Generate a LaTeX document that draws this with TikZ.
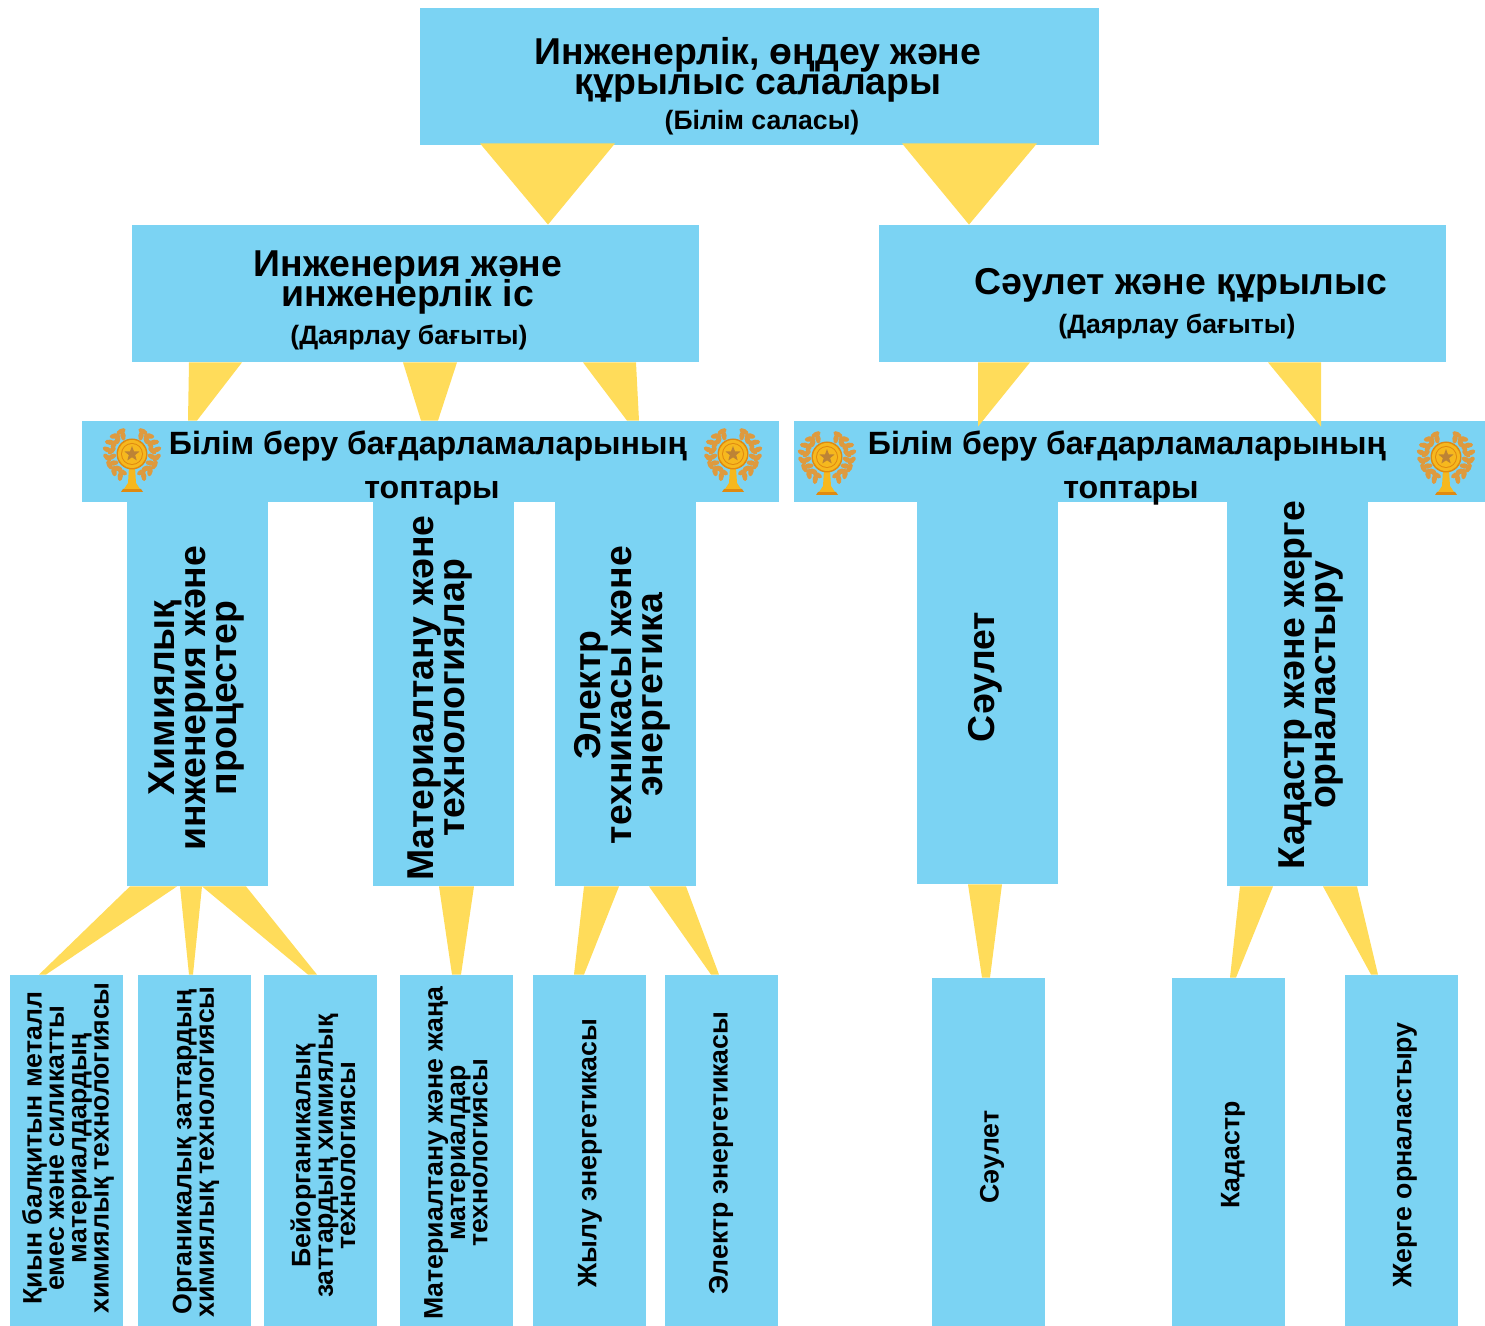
\documentclass[tikz,border=0pt]{standalone}
\usepackage{fontspec}
\setmainfont{Liberation Sans}
\usetikzlibrary{shapes.geometric}
\definecolor{skyblock}{HTML}{7BD3F3}
\definecolor{wedgegold}{HTML}{FFDC5A}
\definecolor{leafbrown}{HTML}{DE9A3E}
\definecolor{cupgold}{HTML}{F6B81E}
\definecolor{cupedge}{HTML}{E08A10}
\def\tightlines{\lineskiplimit -100pt\relax}
\tikzset{
	bx/.style n args={2}{fill=skyblock,inner sep=0pt,minimum width=#1*0.5pt,minimum height=#2*0.5pt},
	txt/.style n args={2}{font=\fontsize{#1}{#2}\selectfont\bfseries\tightlines,align=center,inner sep=0pt},
	headtxt/.style={txt={18.7}{15}},
	subtxt/.style={txt={13.3}{15}},
	bandtxt/.style={txt={16.1}{22}},
	coltxt/.style={txt={18.7}{15.5},rotate=90},
	leaftxt/.style={txt={13.35}{11.2},rotate=90},
	wedgefill/.style={fill=wedgegold}
}
\def\taper[#1](#2)(#3:#4)(#5)(#6:#7){\fill[wedgefill] ([yshift=#1pt]#3,0 |- #2.south) -- ([yshift=#1pt]#4,0 |- #2.south) -- (#7,0 |- #5.north) -- (#6,0 |- #5.north) -- cycle;}
\def\medal(#1,#2){
	\begin{scope}[shift={(#1,#2)}]
		\foreach \s in {-1,1} {
			\foreach \a in {26,44,...,152} {
				\fill[leafbrown,rotate around={{\s*(\a-35)}:({\s*20.5*sin(\a)},{-20.5*cos(\a)})}] ({\s*20.5*sin(\a)},{-20.5*cos(\a)}) ellipse [x radius=2.6,y radius=5];
				\fill[leafbrown,rotate around={{\s*(\a+35)}:({\s*25*sin(\a)},{-25*cos(\a)})}] ({\s*25*sin(\a)},{-25*cos(\a)}) ellipse [x radius=2.6,y radius=5];
			}
		}
		\fill[cupedge] (-9,35) -- (9,35) -- (11,38) -- (-11,38) -- cycle;
		\fill[cupgold] (-3,13) -- (3,13) -- (4,29) -- (8,35) -- (-8,35) -- (-4,29) -- cycle;
		\fill[cupedge] (0,0) circle (15.5);
		\fill[cupgold] (0,0) circle (14);
		\fill[cupedge] (0,0) circle (11);
		\fill[cupgold] (0,0) circle (10);
		\node[star,star points=5,star point ratio=2.4,fill=leafbrown!85!black,inner sep=0pt,minimum size=8pt] at (0,0) {};
	\end{scope}
}

\begin{document}
\begin{tikzpicture}[x=0.5pt,y=-0.5pt]
			%%%%% FRAME %%%%%
			\useasboundingbox (0,0) rectangle (1485,1326);
			
			%%%%% BOXES %%%%%
			\node[bx={679}{137}] (top) at (759.5,76.5) {};
			\node[bx={567}{137}] (eng) at (415.5,293.5) {};
			\node[bx={567}{137}] (arch) at (1162.5,293.5) {};
			
			\node[bx={697}{81}] (bandl) at (430.5,461.5) {};
			\node[bx={691}{81}] (bandr) at (1139.5,461.5) {};
			
			\node[bx={141}{384}] (chem) at (197.5,694) {};
			\node[bx={141}{384}] (mat) at (443.5,694) {};
			\node[bx={141}{384}] (elec) at (625.5,694) {};
			\node[bx={141}{382}] (saul) at (987.5,693) {};
			\node[bx={141}{384}] (cad) at (1297.5,694) {};
			
			\node[bx={113}{351}] (kyin) at (66.5,1150.5) {};
			\node[bx={113}{351}] (org) at (194.5,1150.5) {};
			\node[bx={113}{351}] (bei) at (320.5,1150.5) {};
			\node[bx={113}{351}] (matl) at (456.5,1150.5) {};
			\node[bx={113}{351}] (jylu) at (589.5,1150.5) {};
			\node[bx={113}{351}] (elect) at (721.5,1150.5) {};
			\node[bx={113}{348}] (saull) at (988.5,1152) {};
			\node[bx={113}{348}] (kad) at (1228.5,1152) {};
			\node[bx={113}{351}] (zher) at (1401.5,1150.5) {};
			
			%%%%% WEDGES %%%%%
			\taper[1](top)(480:615)(eng)(548:548);
			\taper[1](top)(902:1037)(arch)(969:969);
			
			\taper[0](eng)(189:242)(bandl)(188:197);
			\taper[0](eng)(403:457)(bandl)(421:438);
			\taper[0](eng)(583:636)(bandl)(627:639);
			\fill[wedgefill] (978,0 |- arch.south) -- (1030,0 |- arch.south) -- ([yshift=-3pt]978,0 |- bandr.north) -- cycle;
			\fill[wedgefill] (1268,0 |- arch.south) -- (1321,0 |- arch.south) -- ([yshift=-3pt]1321,0 |- bandr.north) -- cycle;
			
			\taper[0](chem)(130:177)(kyin)(39:46);
			\taper[0](chem)(180:202)(org)(189:193);
			\taper[0](chem)(202:246)(bei)(308:317);
			\taper[0](mat)(439:474)(matl)(452:461);
			\taper[0](elec)(584:619)(jylu)(574:584);
			\taper[0](elec)(649:686)(elect)(711:719);
			\taper[0](saul)(968:1002)(saull)(982:990);
			\taper[0](cad)(1240:1273)(kad)(1230:1236);
			\taper[0](cad)(1323:1357)(zher)(1371:1378);
			
			%%%%% MEDALS %%%%%
			\medal(132,454);
			\medal(733,454);
			\medal(827,457);
			\medal(1446,457);
			
			%%%%% TEXT %%%%%
			\node[headtxt] (topt) at (758,70) {Инженерлік, өңдеу және\\құрылыс салалары};
			\node[subtxt] (tops) at (762,123) {(Білім саласы)};
			\node[headtxt] (engt) at (408,283) {Инженерия және\\инженерлік іс};
			\node[subtxt] (engs) at (409,338) {(Даярлау бағыты)};
			\node[headtxt] (archt) at (1181,285) {Сәулет және құрылыс};
			\node[subtxt] (archs) at (1177,327) {(Даярлау бағыты)};
			
			\node[bandtxt] (bandlt) at (428,468) {Білім беру бағдарламаларының\\\hspace*{4pt}топтары};
			\node[bandtxt] (bandrt) at (1127,468) {Білім беру бағдарламаларының\\\hspace*{4pt}топтары};
			
			\node[coltxt] (chemt) at (197,698) {Химиялық\\инженерия және\\процестер};
			\node[coltxt] (matt) at (440,698) {Материалтану және\\технологиялар};
			\node[coltxt] (elect2) at (622,695) {Электр\\техникасы және\\энергетика};
			\node[coltxt] (sault) at (985,677) {Сәулет};
			\node[coltxt] (cadt) at (1311,685) {Кадастр және жерге\\орналастыру};
			
			\node[leaftxt] (kyint) at (68,1148) {Қиын  балқитын металл\\емес және силикатты\\материалдардың\\химиялық технологиясы};
			\node[leaftxt] (orgt) at (196,1152) {Органикалық заттардың\\химиялық технологиясы};
			\node[leaftxt] (beit) at (323,1156) {Бейорганикалық\\заттардың химиялық\\технологиясы};
			\node[leaftxt] (matlt) at (456,1153) {Материалтану және жаңа\\материалдар\\технологиясы};
			\node[leaftxt] (jylut) at (590,1153) {Жылу энергетикасы};
			\node[leaftxt] (electt) at (721,1153) {Электр энергетикасы};
			\node[leaftxt] (saullt) at (992,1157) {Сәулет};
			\node[leaftxt] (kadt) at (1233,1155) {Кадастр};
			\node[leaftxt] (zhert) at (1405,1155) {Жерге орналастыру};
		\end{tikzpicture}
\end{document}
